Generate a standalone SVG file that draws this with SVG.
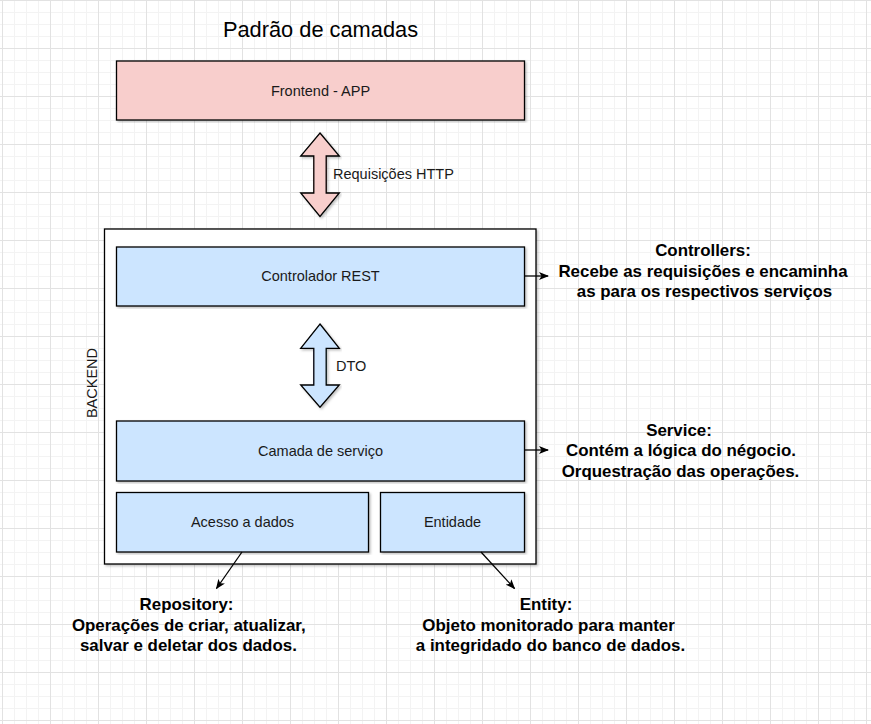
<svg xmlns="http://www.w3.org/2000/svg" width="871" height="724" viewBox="0 0 871 724">
<defs>
<pattern id="grid" x="2" y="0" width="48" height="48" patternUnits="userSpaceOnUse">
<path d="M12.5,0V48M24.5,0V48M36.5,0V48M0,12.5H48M0,24.5H48M0,36.5H48" stroke="#f3f3f3" stroke-width="1" fill="none"/>
<path d="M0.5,0V48M0,0.5H48" stroke="#e2e2e2" stroke-width="1" fill="none"/>
</pattern>
<marker id="arr" viewBox="0 0 10 8" refX="9" refY="4" markerWidth="10" markerHeight="8" markerUnits="userSpaceOnUse" orient="auto">
<path d="M0,0 L10,4 L0,8 L2.5,4 Z" fill="#000"/>
</marker>
<filter id="sh" x="-5%" y="-5%" width="110%" height="110%">
<feDropShadow dx="1.5" dy="1.5" stdDeviation="0.8" flood-color="#000" flood-opacity="0.25"/>
</filter>
</defs>
<style>
.box{stroke:#000;stroke-width:1.3}
.red{fill:#f8cecc}
.blue{fill:#cce5ff}
.lbl{font-family:"Liberation Sans",Arial,sans-serif;font-size:14.5px;fill:#1a1a1a;text-anchor:middle}
.note{font-family:"Liberation Sans",Arial,sans-serif;font-size:16.9px;font-weight:bold;fill:#000;text-anchor:middle}
.conn{stroke:#000;stroke-width:1.3;fill:none;marker-end:url(#arr)}
</style>
<rect width="871" height="724" fill="#fff"/>
<rect width="871" height="724" fill="url(#grid)"/>

<g id="title">
<text x="320.5" y="36.7" font-family="Liberation Sans,Arial,sans-serif" font-size="21.8" fill="#000" text-anchor="middle">Padrão de camadas</text>
</g>

<g id="frontend">
<rect class="box red" x="116.5" y="61" width="408" height="59" filter="url(#sh)"/>
<text class="lbl" x="320.5" y="95.5">Frontend - APP</text>
</g>

<g id="http-arrow">
<path class="box red" d="M320,133 L339.3,156 L326.2,156 L326.2,193 L339.3,193 L320,216.5 L300.7,193 L313.8,193 L313.8,156 L300.7,156 Z" filter="url(#sh)"/>
<text x="333" y="179" font-family="Liberation Sans,Arial,sans-serif" font-size="14.5" fill="#1a1a1a">Requisições HTTP</text>
</g>

<g id="backend">
<rect class="box" x="104.5" y="229" width="431.5" height="335" fill="#fff" filter="url(#sh)"/>
<text class="lbl" x="96.7" y="383" transform="rotate(-90 96.7 383)">BACKEND</text>
</g>

<g id="controlador">
<rect class="box blue" x="116.5" y="247" width="408" height="59" filter="url(#sh)"/>
<text class="lbl" x="320.5" y="281">Controlador REST</text>
</g>

<g id="dto-arrow">
<path class="box blue" d="M320,324 L339.3,348.3 L326.2,348.3 L326.2,385 L339.3,385 L320,407.3 L300.7,385 L313.8,385 L313.8,348.3 L300.7,348.3 Z" filter="url(#sh)"/>
<text x="336" y="371" font-family="Liberation Sans,Arial,sans-serif" font-size="14.5" fill="#1a1a1a">DTO</text>
</g>

<g id="servico">
<rect class="box blue" x="116.5" y="421" width="408" height="60" filter="url(#sh)"/>
<text class="lbl" x="320.5" y="456">Camada de serviço</text>
</g>

<g id="acesso">
<rect class="box blue" x="116.5" y="492.5" width="252" height="59.5" filter="url(#sh)"/>
<text class="lbl" x="242.5" y="527">Acesso a dados</text>
</g>

<g id="entidade">
<rect class="box blue" x="380.5" y="492.5" width="144" height="59.5" filter="url(#sh)"/>
<text class="lbl" x="452.5" y="527">Entidade</text>
</g>

<g id="connectors">
<line class="conn" x1="524.5" y1="276" x2="548" y2="276"/>
<line class="conn" x1="524.5" y1="450" x2="548" y2="450"/>
<line class="conn" x1="242" y1="552" x2="216.5" y2="588.5"/>
<line class="conn" x1="481" y1="552" x2="514.5" y2="588.5"/>
</g>

<g id="note-controllers">
<text class="note" x="703" y="256">Controllers:</text>
<text class="note" x="703" y="276.5">Recebe as requisições e encaminha</text>
<text class="note" x="704.5" y="297">as para os respectivos serviços</text>
</g>

<g id="note-service">
<text class="note" x="679" y="435.7">Service:</text>
<text class="note" x="681" y="456">Contém a lógica do négocio.</text>
<text class="note" x="680.5" y="476.5">Orquestração das operações.</text>
</g>

<g id="note-repository">
<text class="note" x="186.5" y="610">Repository:</text>
<text class="note" x="188.8" y="630.5">Operações de criar, atualizar,</text>
<text class="note" x="188.4" y="651">salvar e deletar dos dados.</text>
</g>

<g id="note-entity">
<text class="note" x="546" y="610">Entity:</text>
<text class="note" x="548.6" y="630.5">Objeto monitorado para manter</text>
<text class="note" x="550.5" y="651">a integridado do banco de dados.</text>
</g>
</svg>
